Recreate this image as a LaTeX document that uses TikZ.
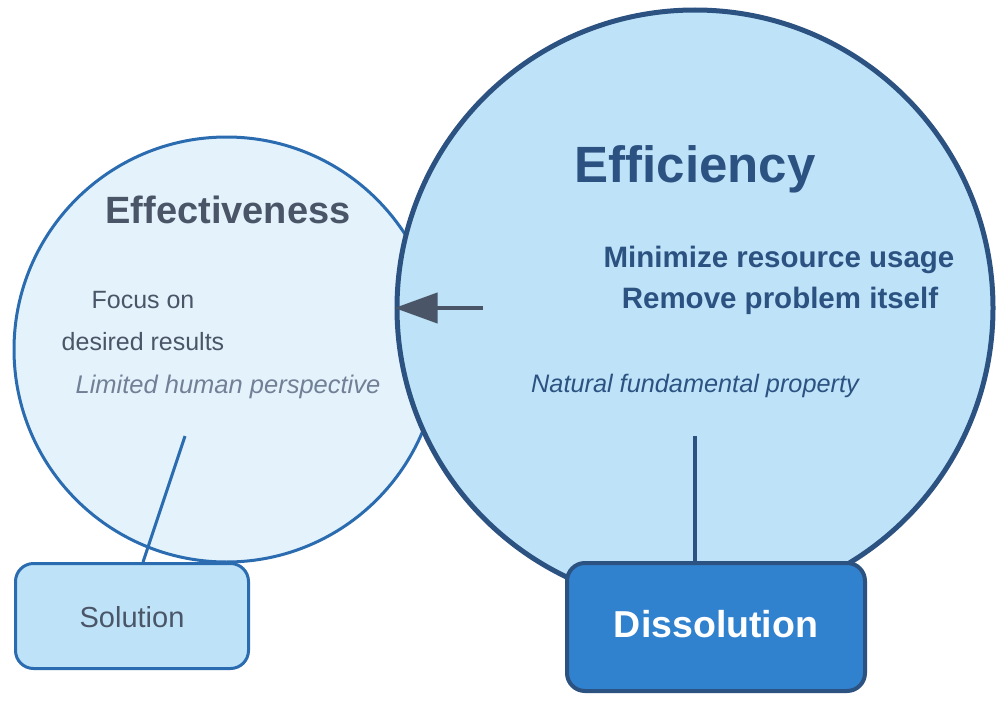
\documentclass[tikz,border=0pt]{standalone}
\usepackage{fontspec}
\setmainfont{Liberation Sans}
\usepackage{xcolor}
\usetikzlibrary{arrows.meta}
\definecolor{bluscuro}{HTML}{2C5282}
\definecolor{blumedio}{HTML}{2B6CB0}
\definecolor{bluforte}{HTML}{3182CE}
\definecolor{azzurro}{HTML}{BEE3F8}
\definecolor{azzurrino}{HTML}{E4F3FB}
\definecolor{grigioscuro}{HTML}{4A5568}
\definecolor{grigio}{HTML}{718096}

\begin{document}
\begin{tikzpicture}[x=1pt, y=-1pt,
    cerchio/.style={circle, inner sep=0pt},
    scatola/.style={rectangle, rounded corners=18pt, inner sep=0pt},
    testo/.style={anchor=base, font=\fontsize{25}{30}\selectfont}]
    \useasboundingbox (0,0) rectangle (1004,701);

    % Cerchio efficacia
    \node[cerchio, draw=blumedio, line width=3pt, fill=azzurrino, minimum size=425pt] (effectiveness) at (226.5,349.5) {};
    \coordinate (effpunto) at (185,436);

    % Scatola soluzione
    \node[scatola, draw=blumedio, line width=3pt, fill=azzurro, minimum width=233pt, minimum height=105pt] (solution) at (132,616) {};
    \draw[blumedio, line width=3pt] (effpunto) -- ([xshift=11pt]solution.north);

    % Cerchio efficienza
    \node[cerchio, draw=bluscuro, line width=5pt, fill=azzurro, minimum size=596pt] (efficiency) at (695,308) {};
    \coordinate (effipunto) at (695,436);

    % Scatola dissoluzione
    \node[scatola, draw=bluscuro, line width=4pt, fill=bluforte, minimum width=298pt, minimum height=128pt] (dissolution) at (716,627) {};
    \draw[bluscuro, line width=4pt] (effipunto) -- (effipunto |- dissolution.north);

    % Freccia
    \coordinate (frecciainizio) at (483,308);
    \draw[grigioscuro, line width=4pt, -{Triangle[length=43pt, width=30pt]}] (frecciainizio) -- (efficiency.west);

    % Testi
    \node[testo, text=grigioscuro, font=\bfseries\fontsize{38}{44}\selectfont] (efftitolo) at (228,223) {Effectiveness};
    \node[testo, text=grigioscuro] (focus) at (143,308) {Focus on};
    \node[testo, text=grigioscuro] (risultati) at (143,350) {desired results};
    \node[testo, text=grigio, font=\itshape\fontsize{25.5}{30}\selectfont] (limitato) at (228,393) {Limited human perspective};

    \node[testo, text=bluscuro, font=\bfseries\fontsize{51}{60}\selectfont] (effititolo) at (695,182) {Efficiency};
    \node[testo, text=bluscuro, font=\bfseries\fontsize{29.5}{34}\selectfont] (minimizza) at (779,267) {Minimize resource usage};
    \node[testo, text=bluscuro, font=\bfseries\fontsize{29.5}{34}\selectfont] (rimuovi) at (780,308) {Remove problem itself};
    \node[testo, text=bluscuro, font=\itshape\fontsize{25.3}{30}\selectfont] (naturale) at (695,392) {Natural fundamental property};

    \node[testo, text=grigioscuro, font=\fontsize{29}{34}\selectfont] at (solution.center |- 0,627) {Solution};
    \node[testo, text=white, font=\bfseries\fontsize{37.5}{44}\selectfont] at (dissolution.center |- 0,637) {Dissolution};
\end{tikzpicture}
\end{document}
